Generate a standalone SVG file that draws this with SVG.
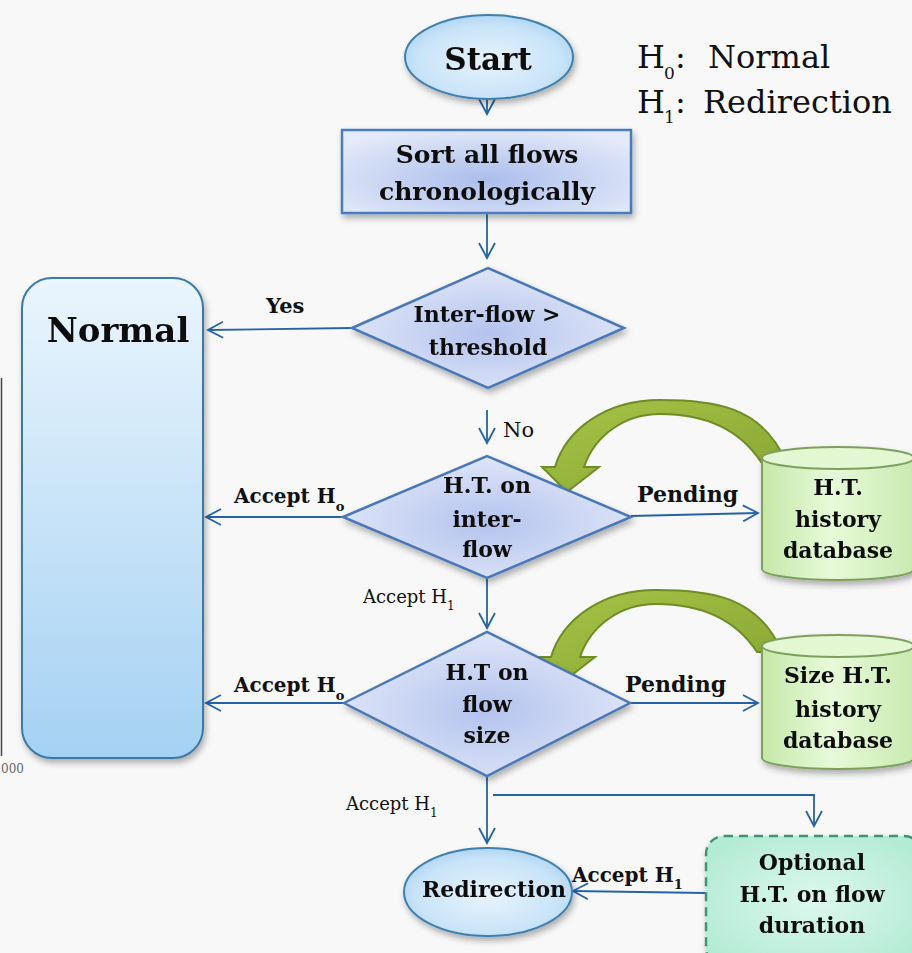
<svg xmlns="http://www.w3.org/2000/svg" width="912" height="953" viewBox="0 0 912 953">
<style>
  text { font-family: "DejaVu Serif", "Liberation Serif", serif; fill: #111; }
  .b { font-weight: bold; }
  .c { text-anchor: middle; }
  .conn { fill: none; stroke: #2563a8; stroke-width: 1.8; }
  .arr { marker-end: url(#ah); }
</style>
<defs>
  <marker id="ah" markerUnits="userSpaceOnUse" markerWidth="18" markerHeight="18" viewBox="0 0 18 18" refX="16" refY="9" orient="auto">
    <path d="M1,1 L16,9 L1,17" fill="none" stroke="#2563a8" stroke-width="1.8"/>
  </marker>
  <filter id="sh" x="-20%" y="-20%" width="140%" height="140%">
    <feDropShadow dx="2" dy="4" stdDeviation="3" flood-color="#000" flood-opacity="0.3"/>
  </filter>
  <radialGradient id="gEll" cx="50%" cy="55%" r="60%">
    <stop offset="0" stop-color="#e6f3fc"/>
    <stop offset="0.7" stop-color="#c9e4f8"/>
    <stop offset="1" stop-color="#a7d1f1"/>
  </radialGradient>
  <radialGradient id="gSort" cx="50%" cy="60%" r="65%">
    <stop offset="0" stop-color="#aabdeb"/>
    <stop offset="1" stop-color="#e4eaf9"/>
  </radialGradient>
  <radialGradient id="gDia" cx="50%" cy="55%" r="55%">
    <stop offset="0" stop-color="#b4c3ee"/>
    <stop offset="1" stop-color="#dfe6f8"/>
  </radialGradient>
  <linearGradient id="gNorm" x1="0" y1="0" x2="0" y2="1">
    <stop offset="0" stop-color="#eaf5fd"/>
    <stop offset="1" stop-color="#a5d1f3"/>
  </linearGradient>
  <linearGradient id="gCyl" x1="0" y1="0" x2="1" y2="0">
    <stop offset="0" stop-color="#c4e8a8"/>
    <stop offset="0.45" stop-color="#e8fad9"/>
    <stop offset="1" stop-color="#c8eab0"/>
  </linearGradient>
  <radialGradient id="gOpt" cx="50%" cy="50%" r="60%">
    <stop offset="0" stop-color="#dcf8ee"/>
    <stop offset="1" stop-color="#b4ebd5"/>
  </radialGradient>
  <linearGradient id="gGreen" x1="0" y1="0" x2="1" y2="1">
    <stop offset="0" stop-color="#a7c447"/>
    <stop offset="1" stop-color="#86a532"/>
  </linearGradient>
  <path id="garrow" d="M786,462 C762,405 712,400 660,400 C605,400 566,430 555,467 L542,467 L567,492 L599,467 L584,467 C595,435 625,414 660,414 C705,414 740,430 761,462 Z"/>
</defs>

<rect x="0" y="0" width="912" height="953" fill="#f8f8f8"/>

<!-- cropped chart remnant at left edge -->
<g id="edge-remnant">
  <line x1="1.5" y1="378" x2="1.5" y2="756" stroke="#444" stroke-width="1.5"/>
  <text x="1" y="773" font-size="12" style="fill:#666">000</text>
</g>

<!-- green feedback arrows -->
<g id="feedback-arrows">
  <use href="#garrow" fill="url(#gGreen)" stroke="#6f8c26" stroke-width="2"/>
  <use href="#garrow" transform="translate(-4,190)" fill="url(#gGreen)" stroke="#6f8c26" stroke-width="2"/>
</g>

<!-- connectors -->
<g id="connectors">
  <line class="conn arr" x1="487" y1="74" x2="487" y2="114"/>
  <line class="conn arr" x1="487" y1="205" x2="487" y2="258"/>
  <line class="conn arr" x1="352" y1="328" x2="208" y2="330"/>
  <line class="conn arr" x1="487" y1="410" x2="487" y2="443"/>
  <line class="conn arr" x1="343" y1="517" x2="206" y2="517"/>
  <line class="conn arr" x1="631" y1="516" x2="758" y2="513"/>
  <line class="conn arr" x1="487" y1="578" x2="487" y2="628"/>
  <line class="conn arr" x1="344" y1="703" x2="206" y2="703"/>
  <line class="conn arr" x1="630" y1="703" x2="758" y2="703"/>
  <line class="conn arr" x1="487" y1="776" x2="487" y2="843"/>
  <polyline class="conn arr" points="493,795 814,795 814,826"/>
  <line class="conn arr" x1="706" y1="893" x2="573" y2="891"/>
  <text x="266" y="313" class="b" font-size="21">Yes</text>
  <text x="503" y="437" font-size="21">No</text>
  <text x="234" y="503" class="b" font-size="20">Accept H<tspan font-size="13" dy="8">o</tspan></text>
  <text x="637" y="502" class="b" font-size="22">Pending</text>
  <text x="363" y="603" font-size="18">Accept H<tspan font-size="12" dy="7">1</tspan></text>
  <text x="234" y="692" class="b" font-size="20">Accept H<tspan font-size="13" dy="8">o</tspan></text>
  <text x="625" y="692" class="b" font-size="22">Pending</text>
  <text x="346" y="810" font-size="18">Accept H<tspan font-size="12" dy="7">1</tspan></text>
  <text x="572" y="882" class="b" font-size="20">Accept H<tspan font-size="13" dy="7">1</tspan></text>
</g>

<!-- legend -->
<g id="legend">
  <text x="637" y="68" font-size="32">H</text>
  <text x="664" y="79" font-size="17">0</text>
  <text x="675" y="68" font-size="32">:</text>
  <text x="708" y="68" font-size="32">Normal</text>
  <text x="637" y="113" font-size="32">H</text>
  <text x="664" y="123" font-size="17">1</text>
  <text x="675" y="113" font-size="32">:</text>
  <text x="703" y="113" font-size="32">Redirection</text>
</g>

<g id="start" filter="url(#sh)">
  <ellipse cx="489" cy="57" rx="84" ry="42" fill="url(#gEll)" stroke="#3f7fae" stroke-width="2"/>
  <text x="488" y="70" class="b c" font-size="31">Start</text>
</g>

<g id="sort" filter="url(#sh)">
  <rect x="342" y="130" width="289" height="83" fill="url(#gSort)" stroke="#4a7cbf" stroke-width="2.5"/>
  <text x="487" y="163" class="b c" font-size="25">Sort all flows</text>
  <text x="487" y="200" class="b c" font-size="25">chronologically</text>
</g>

<g id="threshold" filter="url(#sh)">
  <polygon points="352,328 488,268 624,328 488,388" fill="url(#gDia)" stroke="#4a78b8" stroke-width="2.5"/>
  <text x="487" y="322" class="b c" font-size="22">Inter-flow &gt;</text>
  <text x="488" y="355" class="b c" font-size="22">threshold</text>
</g>

<g id="normal" filter="url(#sh)">
  <rect x="22" y="278" width="181" height="480" rx="30" ry="30" fill="url(#gNorm)" stroke="#3a7aa8" stroke-width="2"/>
  <text x="118" y="342" class="b c" font-size="34">Normal</text>
</g>

<g id="ht-interflow" filter="url(#sh)">
  <polygon points="343,517 487,456 631,517 487,578" fill="url(#gDia)" stroke="#4a78b8" stroke-width="2.5"/>
  <text x="487" y="493" class="b c" font-size="22">H.T. on</text>
  <text x="487" y="527" class="b c" font-size="22">inter-</text>
  <text x="487" y="557" class="b c" font-size="22">flow</text>
</g>

<g id="ht-history-db" filter="url(#sh)">
  <path d="M762,458 L762,569 A76,11 0 0 0 914,569 L914,458" fill="url(#gCyl)" stroke="#7f9f5f" stroke-width="2"/>
  <ellipse cx="838" cy="458" rx="76" ry="11" fill="#e2f7d2" stroke="#7f9f5f" stroke-width="2"/>
  <text x="838" y="495" class="b c" font-size="22">H.T.</text>
  <text x="838" y="527" class="b c" font-size="22">history</text>
  <text x="838" y="558" class="b c" font-size="22">database</text>
</g>

<g id="ht-size" filter="url(#sh)">
  <polygon points="344,703 487,632 630,703 487,776" fill="url(#gDia)" stroke="#4a78b8" stroke-width="2.5"/>
  <text x="487" y="680" class="b c" font-size="22">H.T on</text>
  <text x="487" y="712" class="b c" font-size="22">flow</text>
  <text x="487" y="743" class="b c" font-size="22">size</text>
</g>

<g id="size-history-db" filter="url(#sh)">
  <path d="M762,646 L762,758 A76,11 0 0 0 914,758 L914,646" fill="url(#gCyl)" stroke="#7f9f5f" stroke-width="2"/>
  <ellipse cx="838" cy="646" rx="76" ry="11" fill="#e2f7d2" stroke="#7f9f5f" stroke-width="2"/>
  <text x="838" y="683" class="b c" font-size="22">Size H.T.</text>
  <text x="838" y="717" class="b c" font-size="22">history</text>
  <text x="838" y="748" class="b c" font-size="22">database</text>
</g>

<g id="redirection" filter="url(#sh)">
  <ellipse cx="488" cy="892" rx="84" ry="44" fill="url(#gEll)" stroke="#3f7fae" stroke-width="2"/>
  <text x="494" y="897" class="b c" font-size="22">Redirection</text>
</g>

<g id="optional" filter="url(#sh)">
  <rect x="706" y="836" width="216" height="130" rx="18" ry="18" fill="url(#gOpt)" stroke="#3f9474" stroke-width="2.5" stroke-dasharray="9 6"/>
  <text x="812" y="870" class="b c" font-size="22">Optional</text>
  <text x="812" y="902" class="b c" font-size="22">H.T. on flow</text>
  <text x="812" y="933" class="b c" font-size="22">duration</text>
</g>
</svg>
